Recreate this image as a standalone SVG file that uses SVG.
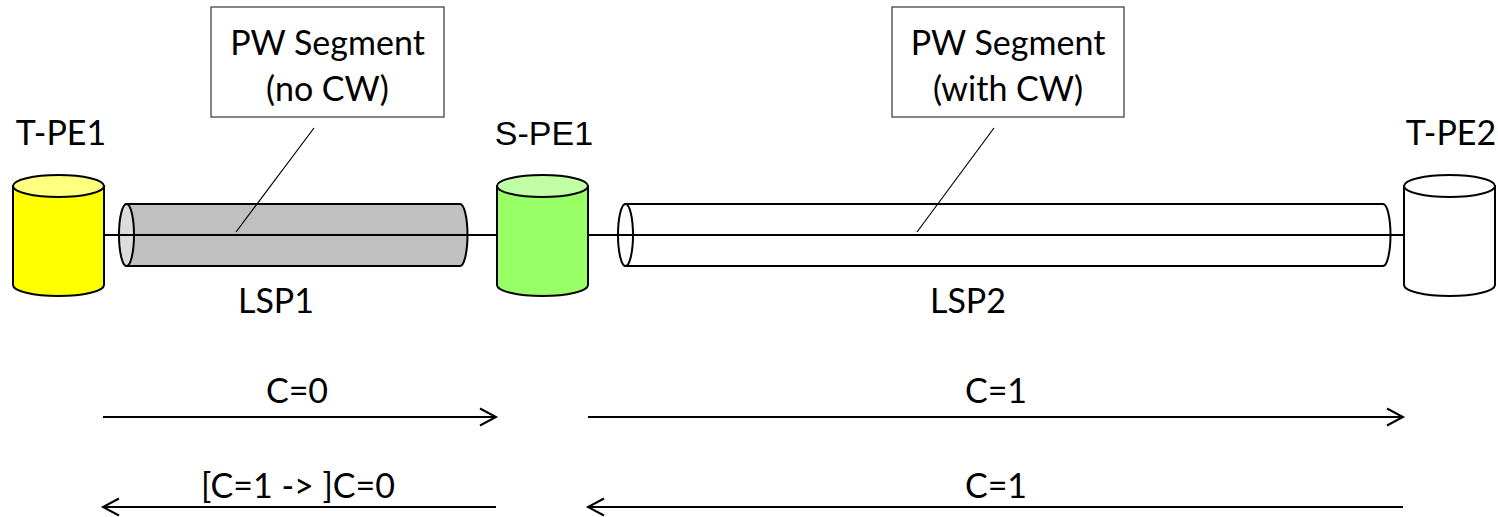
<svg xmlns="http://www.w3.org/2000/svg" width="1498" height="517" viewBox="0 0 1498 517">
  <defs>
    <style>
      .lbl { font-family: Lato, "Liberation Sans", sans-serif; font-size: 34px; fill: #000; }
      .arial { font-family: "Liberation Sans", Arial, sans-serif; font-size: 34px; fill: #000; }
      .edge { stroke: #000; stroke-width: 2; }
      .wire { stroke: #000; stroke-width: 2; fill: none; }
      .thin { stroke: #000; stroke-width: 1.2; fill: none; }
      .box { fill: #fff; stroke: #444; stroke-width: 1.3; }
    </style>
    <marker id="openHead" viewBox="0 0 20 20" refX="17" refY="10" markerWidth="20" markerHeight="20" markerUnits="userSpaceOnUse" orient="auto-start-reverse">
      <path d="M1,1.5 L17,10 L1,18.5" fill="none" stroke="#000" stroke-width="2"/>
    </marker>
  </defs>

  <!-- tunnels between the PEs -->
  <g id="lsp1">
    <path class="edge" fill="#c0c0c0" d="M126.5,204 H460 A7.5,31 0 0 1 460,266 H126.5 Z"/>
    <ellipse class="edge" fill="#dcdcdc" cx="126.5" cy="235" rx="7.5" ry="31"/>
    <text class="lbl" x="276" y="313" text-anchor="middle">LSP1</text>
  </g>
  <g id="lsp2">
    <path class="edge" fill="#fff" d="M625.5,204 H1383 A7.5,31 0 0 1 1383,266 H625.5 Z"/>
    <ellipse class="edge" fill="#fff" cx="625.5" cy="235" rx="7.5" ry="31"/>
    <text class="lbl" x="968" y="313" text-anchor="middle">LSP2</text>
  </g>

  <!-- pseudowire path and forwarding arrows -->
  <g id="connectors">
    <line class="wire" x1="104" y1="235" x2="497" y2="235"/>
    <line class="wire" x1="588" y1="235" x2="1404" y2="235"/>
    <line class="thin" x1="314" y1="128" x2="236" y2="232"/>
    <line class="thin" x1="994" y1="128" x2="917" y2="232"/>
    <line class="wire" x1="103" y1="417" x2="496" y2="417" marker-end="url(#openHead)"/>
    <line class="wire" x1="496" y1="507" x2="103" y2="507" marker-end="url(#openHead)"/>
    <line class="wire" x1="588" y1="417" x2="1403" y2="417" marker-end="url(#openHead)"/>
    <line class="wire" x1="1403" y1="507" x2="588" y2="507" marker-end="url(#openHead)"/>
  </g>

  <!-- provider edge routers -->
  <g id="t-pe1">
    <path class="edge" fill="#ffff00" d="M13,186 V285 A45.5,11 0 0 0 104,285 V186 Z"/>
    <ellipse class="edge" fill="#ffff80" cx="58.5" cy="186" rx="45.5" ry="11"/>
    <text class="lbl" x="61" y="145" text-anchor="middle">T-PE1</text>
  </g>
  <g id="s-pe1">
    <path class="edge" fill="#99ff66" d="M497,186 V285 A45.5,11 0 0 0 588,285 V186 Z"/>
    <ellipse class="edge" fill="#c0ffa6" cx="542.5" cy="186" rx="45.5" ry="11"/>
    <text class="arial" x="544" y="145" text-anchor="middle">S-PE1</text>
  </g>
  <g id="t-pe2">
    <path class="edge" fill="#fff" d="M1404,186 V285 A45.5,11 0 0 0 1495,285 V186 Z"/>
    <ellipse class="edge" fill="#fff" cx="1449.5" cy="186" rx="45.5" ry="11"/>
    <text class="lbl" x="1451" y="145" text-anchor="middle">T-PE2</text>
  </g>

  <!-- segment callouts -->
  <g id="seg1-note">
    <rect class="box" x="211" y="7" width="233" height="110"/>
    <text class="lbl" x="327.5" y="55" text-anchor="middle">PW Segment</text>
    <text class="lbl" x="327.5" y="101" text-anchor="middle">(no CW)</text>
  </g>
  <g id="seg2-note">
    <rect class="box" x="892" y="7" width="232" height="110"/>
    <text class="lbl" x="1008" y="55" text-anchor="middle">PW Segment</text>
    <text class="lbl" x="1008" y="101" text-anchor="middle">(with CW)</text>
  </g>

  <!-- control word flags -->
  <g id="flags">
    <text class="lbl" x="297" y="403" text-anchor="middle">C=0</text>
    <text class="lbl" x="298" y="498" text-anchor="middle">[C=1 -&gt; ]C=0</text>
    <text class="lbl" x="996" y="403" text-anchor="middle">C=1</text>
    <text class="lbl" x="996" y="498" text-anchor="middle">C=1</text>
  </g>
</svg>
